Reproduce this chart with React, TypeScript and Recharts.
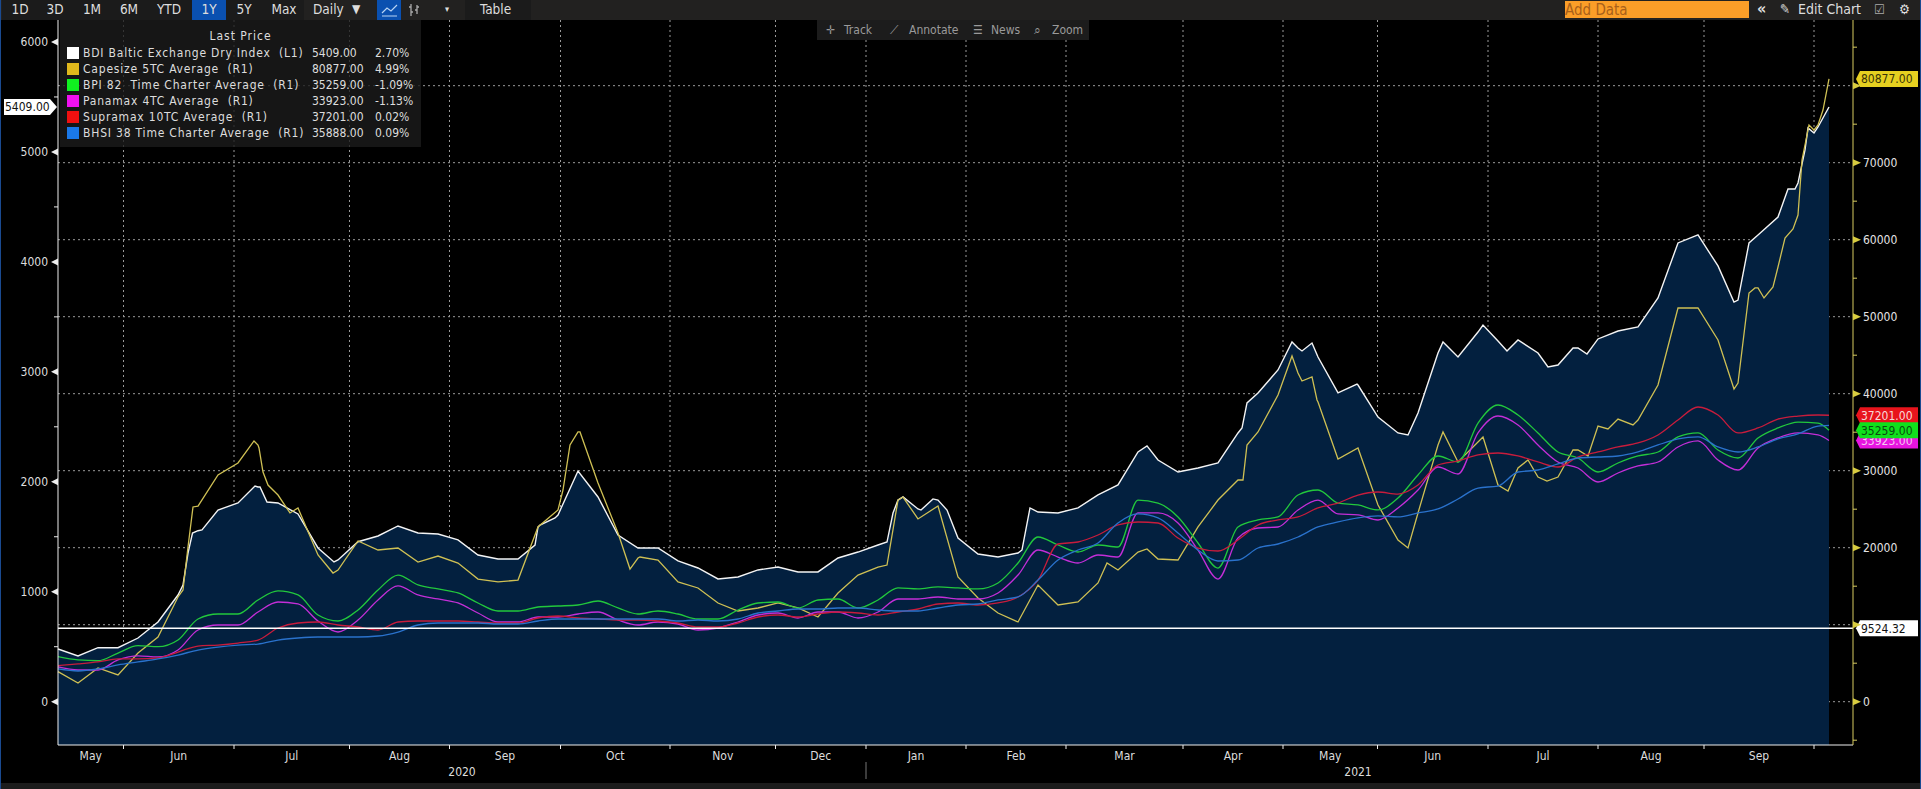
import React from 'react';
import { ComposedChart, Area, Line, XAxis, YAxis, CartesianGrid, ReferenceLine, ReferenceDot } from 'recharts';

const FONT = '"DejaVu Sans Condensed", "DejaVu Sans", sans-serif';

// one sample every 4 trading days, the last one is the final print
const bdi = [
  479, 416, 491, 491, 579, 725, 970, 1555, 1743, 1807,
  1953, 1807, 1707, 1398, 1289, 1455, 1507, 1598, 1534, 1525,
  1471, 1334, 1298, 1298, 1589, 1698, 2098, 1862, 1516, 1398,
  1398, 1280, 1216, 1116, 1134, 1198, 1225, 1180, 1180, 1307,
  1361, 1425, 1834, 1753, 1834, 1489, 1343, 1316, 1352, 1725,
  1716, 1762, 1880, 1971, 2271, 2198, 2089, 2125, 2171, 2444,
  2808, 3017, 3217, 3135, 2808, 2880, 2589, 2444, 2626, 3171,
  3135, 3362, 3281, 3290, 3171, 3062, 3217, 3299, 3371, 3408,
  3672, 4172, 4245, 3963, 3653, 4245, 4408, 4718, 5227, 5409,
];
const capesize = [
  3900, 2430, 4380, 3470, 6320, 8400, 13600, 25400, 29440, 31000,
  33340, 26840, 25160, 19050, 17100, 20870, 19700, 19960, 18140, 18920,
  18010, 15930, 15550, 15800, 22690, 24900, 35030, 28400, 21910, 18660,
  18400, 15550, 14770, 12820, 11780, 12170, 12820, 12170, 11000, 14120,
  16450, 17490, 26190, 23730, 25420, 16190, 13470, 11520, 10350, 15160,
  12560, 12950, 15420, 17100, 19440, 18530, 18400, 22690, 26190, 28790,
  35030, 39830, 42690, 38920, 31520, 32950, 25550, 21000, 24510, 33340,
  31130, 33730, 28140, 30350, 29180, 29180, 32690, 35800, 36710, 36580,
  41130, 51130, 51130, 46970, 41390, 53730, 56450, 63200, 74900, 80877,
];
const bpi82 = [
  5840, 5420, 5320, 6320, 7270, 7140, 8010, 10740, 11390, 11390,
  13210, 14380, 13860, 11260, 10480, 11910, 14510, 16450, 15160, 14640,
  14120, 12820, 11780, 11780, 12300, 12430, 12560, 13080, 12170, 11390,
  11780, 11390, 10740, 10740, 11910, 12820, 12950, 12170, 13210, 13340,
  12170, 13210, 14770, 14640, 14900, 14770, 14640, 15420, 18010, 21390,
  20350, 19440, 20350, 20090, 26190, 25800, 23990, 20610, 17360, 22690,
  23600, 23990, 26840, 27490, 25800, 25550, 24900, 26450, 29440, 31910,
  31130, 36190, 38530, 37230, 34900, 32430, 31650, 29830, 31000, 31910,
  32430, 34380, 34900, 32690, 31650, 34250, 35550, 36320, 36190, 35259,
];
const panamax = [
  4510, 4120, 4120, 5420, 5940, 5810, 6710, 9310, 9960, 9960,
  11650, 12950, 12690, 10480, 9050, 10610, 13210, 15030, 13860, 13340,
  12820, 11520, 10350, 10350, 11000, 11000, 11390, 11650, 10610, 9960,
  10350, 10090, 9310, 9570, 10350, 11260, 11520, 10870, 11650, 11650,
  10870, 11650, 13340, 13340, 13600, 13340, 13340, 14120, 16450, 19700,
  18790, 18010, 19050, 18790, 24510, 24510, 23210, 19700, 15930, 21260,
  22560, 22690, 24900, 26190, 24380, 24250, 23600, 25160, 27490, 30480,
  29570, 34900, 37100, 35940, 33340, 31130, 30350, 28530, 29700, 30610,
  31130, 33080, 33860, 31390, 30090, 32950, 34250, 34900, 34640, 33923,
];
const supramax = [
  4680, 4900, 5160, 5550, 5550, 5680, 6450, 7230, 7360, 7620,
  8010, 9570, 10220, 10350, 9960, 9700, 9310, 10350, 10480, 10480,
  10480, 10350, 10220, 10220, 10870, 11130, 10870, 10740, 10610, 10610,
  10480, 10220, 9700, 9700, 10220, 11000, 11260, 11000, 11390, 11650,
  11520, 11260, 11650, 12040, 12690, 12820, 12560, 12820, 13600, 15800,
  20480, 20740, 21650, 22950, 23340, 23210, 21260, 19960, 19570, 21000,
  22950, 23600, 23990, 25160, 25800, 26840, 27230, 26970, 28140, 30740,
  31260, 32040, 32300, 31910, 31130, 30480, 31780, 32430, 33080, 33600,
  34640, 36580, 38270, 37230, 34900, 35550, 36710, 37100, 37230, 37201,
];
const bhsi38 = [
  4250, 3990, 4250, 4770, 5160, 5550, 6060, 6710, 7100, 7360,
  7490, 8010, 8270, 8400, 8400, 8400, 8530, 9050, 9960, 10220,
  10220, 10220, 10090, 10090, 10480, 10740, 10740, 10740, 10740, 10740,
  10740, 10480, 10610, 10480, 10740, 11520, 11780, 12040, 12040, 12170,
  12170, 11910, 11780, 11780, 12170, 12560, 12690, 13210, 13600, 15800,
  18400, 19700, 20610, 23210, 24380, 23860, 21910, 19700, 18270, 18400,
  19960, 20480, 21390, 22690, 23340, 23860, 24120, 23990, 24510, 25030,
  26320, 27750, 28010, 29830, 30090, 30870, 31650, 31780, 31910, 32430,
  33340, 34120, 34380, 33080, 32430, 33080, 34120, 34770, 35800, 35888,
];

// extra readings for the two jagged series, at their turning points
const bdiExtraDays = [25, 26, 26.9, 28.8, 39.4, 40.4, 41.8, 55.2, 95.4, 96.4, 99.4, 165.8, 167, 169, 172.6, 175, 177.8, 192.8, 194.4, 217.8, 236.8, 237.8, 246.8, 248.8, 250.8, 259.8, 270, 277, 285, 289.8, 298, 303, 305.8, 335.2, 338.2, 346, 347.4, 349.4, 350, 351.2];
const bdiExtra = [1061, 1352, 1534, 1562, 1962, 1953, 1816, 1271, 1425, 1607, 1671, 1452, 1716, 1862, 1743, 1844, 1743, 1380, 1762, 2326, 2489, 2717, 3271, 3190, 3262, 2889, 2426, 3271, 3426, 3190, 3044, 3217, 3162, 3635, 4172, 4663, 4663, 5018, 5218, 5172];
const capesizeExtraDays = [25, 26, 27, 39.2, 40.2, 41, 42, 46.4, 55, 101, 102.4, 104.4, 114.4, 116.4, 165.8, 169, 209.8, 217.8, 237, 237.8, 246.8, 248.8, 250.8, 251.8, 270, 277, 285, 290, 294, 297.8, 303, 306, 310, 315, 335.2, 338.2, 339.4, 341.2, 343, 345.4, 347, 348.8, 350.2, 351.2, 353];
const capesizeExtra = [14510, 20090, 25290, 33860, 32950, 29830, 28140, 24510, 16710, 27490, 33340, 35030, 17230, 18790, 17750, 26580, 18010, 19830, 28790, 33340, 44900, 41650, 42170, 39180, 19960, 35030, 34380, 27360, 31390, 28660, 32690, 31910, 35420, 35940, 40610, 53080, 53730, 52430, 53860, 60220, 61390, 70350, 74900, 74250, 76840];

const sampleStep = 4;
const lastDay = 354.2;
const rows: any[] = [
  ...bdi.map((v, i) => ({
    day: i === bdi.length - 1 ? lastDay : i * sampleStep,
    bdi: v,
    capesize: capesize[i],
    bpi82: bpi82[i],
    panamax: panamax[i],
    supramax: supramax[i],
    bhsi38: bhsi38[i],
  })),
  ...bdiExtraDays.map((day, i) => ({ day, bdi: bdiExtra[i] })),
  ...capesizeExtraDays.map((day, i) => ({ day, capesize: capesizeExtra[i] })),
].sort((a, b) => a.day - b.day);

// trading day of each month boundary
const monthEnds = [13.1, 35.2, 58.3, 78.3, 100.5, 122.4, 143.5, 161.6, 181.6, 201.6, 225, 245, 263.9, 286, 308, 329.2, 351.2];
const monthNames = ['May', 'Jun', 'Jul', 'Aug', 'Sep', 'Oct', 'Nov', 'Dec', 'Jan', 'Feb', 'Mar', 'Apr', 'May', 'Jun', 'Jul', 'Aug', 'Sep'];
const monthMids = monthEnds.map((end, i) => ((i === 0 ? 0 : monthEnds[i - 1]) + end) / 2);
const yearDivider = 161.6;
const years = [{ day: 80.8, label: '2020' }, { day: 260, label: '2021' }];

const xDomain = [0, 359];
const leftDomain = [-394, 6200];
const rightDomain = [-5623, 88530];
const leftTicks = [0, 500, 1000, 1500, 2000, 2500, 3000, 3500, 4000, 4500, 5000, 5500, 6000];
const rightTicks = [-5000, 0, 5000, 10000, 15000, 20000, 25000, 30000, 35000, 40000, 45000, 50000, 55000, 60000, 65000, 70000, 75000, 80000, 85000];
const coveredRightLabels = [10000, 80000]; // sit behind the price tags in the original
const gridValues = [0, 10000, 20000, 30000, 40000, 50000, 60000, 70000, 80000];
const refLevel = 9524.32;

const legendItems = [
  { name: 'BDI Baltic Exchange Dry Index  (L1)', price: '5409.00', pct: '2.70%', color: '#ffffff' },
  { name: 'Capesize 5TC Average  (R1)', price: '80877.00', pct: '4.99%', color: '#e0b81c' },
  { name: 'BPI 82  Time Charter Average  (R1)', price: '35259.00', pct: '-1.09%', color: '#10f020' },
  { name: 'Panamax 4TC Average  (R1)', price: '33923.00', pct: '-1.13%', color: '#f010f0' },
  { name: 'Supramax 10TC Average  (R1)', price: '37201.00', pct: '0.02%', color: '#f01010' },
  { name: 'BHSI 38 Time Charter Average  (R1)', price: '35888.00', pct: '0.09%', color: '#1a78e8' },
];

const rangeButtons = [
  { label: '1D', x: 20 }, { label: '3D', x: 55 }, { label: '1M', x: 92 }, { label: '6M', x: 129 },
  { label: 'YTD', x: 169 }, { label: '1Y', x: 209 }, { label: '5Y', x: 244 }, { label: 'Max', x: 284 },
];
const overlayTools = [
  { icon: '✛', label: 'Track', x: 844, iconX: 826 },
  { icon: '⟋', label: 'Annotate', x: 909, iconX: 890 },
  { icon: '☰', label: 'News', x: 991, iconX: 973 },
  { icon: '⌕', label: 'Zoom', x: 1052, iconX: 1034 },
];

const LeftTick = ({ x, y, payload }: any) => {
  if (payload.value % 1000 !== 0) {
    return <line x1={x - 4} x2={x} y1={y} y2={y} stroke="#eee" />;
  }
  return (
    <g>
      <polygon points={`${x},${y - 3.5} ${x},${y + 3.5} ${x - 7},${y}`} fill="#eee" />
      <text x={x - 10} y={y + 4.5} textAnchor="end" fill="#ddd" fontSize={12} fontFamily={FONT}>{payload.value}</text>
    </g>
  );
};

const RightTick = ({ x, y, payload }: any) => {
  if (payload.value % 10000 !== 0) {
    return <line x1={x} x2={x + 4} y1={y} y2={y} stroke="#d8cc60" />;
  }
  return (
    <g>
      <polygon points={`${x},${y - 3.5} ${x},${y + 3.5} ${x + 8},${y}`} fill="#d8cc40" />
      {!coveredRightLabels.includes(payload.value) && (
        <text x={x + 10} y={y + 4.5} fill="#e4e4e4" fontSize={12} fontFamily={FONT}>{payload.value}</text>
      )}
    </g>
  );
};

const BottomTick = ({ x, y, payload }: any) => {
  const v = payload.value;
  const monthIdx = monthMids.indexOf(v);
  if (monthIdx >= 0) {
    return <text x={x} y={y + 15} textAnchor="middle" fill="#ddd" fontSize={12} fontFamily={FONT}>{monthNames[monthIdx]}</text>;
  }
  const year = years.find((d) => d.day === v);
  if (year) {
    return <text x={x} y={y + 31} textAnchor="middle" fill="#ddd" fontSize={12} fontFamily={FONT}>{year.label}</text>;
  }
  return (
    <g>
      <line x1={x} x2={x} y1={y} y2={y + 4} stroke="#eee" />
      {v === yearDivider && <line x1={x} x2={x} y1={y + 17} y2={y + 34} stroke="#777" />}
    </g>
  );
};

// price tag hanging off an axis
const rightTag = (label: string, bg: string, fg: string) => ({ cx, cy }: any) => {
  const x0 = cx + 7;
  return (
    <g>
      <polygon points={`${cx + 3},${cy} ${x0},${cy - 8} ${x0 + 58},${cy - 8} ${x0 + 58},${cy + 8} ${x0},${cy + 8}`} fill={bg} />
      <text x={x0 + 1} y={cy + 4.5} fill={fg} fontSize={12} fontFamily={FONT}>{label}</text>
    </g>
  );
};

const leftTag = (label: string) => ({ cx, cy }: any) => (
  <g>
    <polygon points={`${cx - 54},${cy - 8} ${cx - 8},${cy - 8} ${cx - 1},${cy} ${cx - 8},${cy + 8} ${cx - 54},${cy + 8}`} fill="#fff" />
    <text x={cx - 53} y={cy + 4.5} fill="#111" fontSize={12} fontFamily={FONT}>{label}</text>
  </g>
);

const Toolbar = () => (
  <div style={{ position: 'absolute', left: 0, top: 0, width: 1921, height: 20, background: '#222120', color: '#ddd', fontSize: 13.5, lineHeight: '19px' }}>
    <div style={{ position: 'absolute', left: 2, top: 0, width: 302, height: 20, background: '#1b1b1b' }} />
    <div style={{ position: 'absolute', left: 192, top: 0, width: 34, height: 20, background: '#0a50b0' }} />
    {rangeButtons.map((b) => (
      <span key={b.label} style={{ position: 'absolute', left: b.x - 20, width: 40, textAlign: 'center' }}>{b.label}</span>
    ))}
    <span style={{ position: 'absolute', left: 313 }}>Daily</span>
    <span style={{ position: 'absolute', left: 352, fontSize: 12 }}>▼</span>
    <div style={{ position: 'absolute', left: 377, top: 0, width: 24, height: 20, background: '#0a50b0' }} />
    <svg style={{ position: 'absolute', left: 381, top: 3 }} width={17} height={14}>
      <polyline points="1,10 6,5 10,8 16,2" fill="none" stroke="#b8d4f4" strokeWidth={1.2} />
      <line x1={1} x2={16} y1={13} y2={13} stroke="#b8d4f4" />
    </svg>
    <svg style={{ position: 'absolute', left: 408, top: 3 }} width={12} height={14}>
      <path d="M3 1V13M1 4H3M3 9H5M9 2V11M7 7H9M9 4H11" fill="none" stroke="#aaa" strokeWidth={1.3} />
    </svg>
    <span style={{ position: 'absolute', left: 445, fontSize: 9 }}>▾</span>
    <div style={{ position: 'absolute', left: 465, top: 0, width: 66, height: 20, background: '#1b1b1b' }} />
    <span style={{ position: 'absolute', left: 480 }}>Table</span>
    <div style={{ position: 'absolute', left: 1565, top: 1, width: 184, height: 17, background: '#fb9e28', color: '#a8601a', fontSize: 15, lineHeight: '18px', whiteSpace: 'nowrap' }}>Add Data</div>
    <span style={{ position: 'absolute', left: 1757, fontSize: 16, fontWeight: 700, lineHeight: '18px' }}>«</span>
    <span style={{ position: 'absolute', left: 1780 }}>✎</span>
    <span style={{ position: 'absolute', left: 1798, fontSize: 14, whiteSpace: 'nowrap' }}>Edit Chart</span>
    <span style={{ position: 'absolute', left: 1874, color: '#aaa' }}>☑</span>
    <span style={{ position: 'absolute', left: 1899 }}>⚙</span>
  </div>
);

const ChartLegend = () => (
  <div style={{ position: 'absolute', left: 60, top: 20, width: 361, height: 127, background: 'rgba(28,28,28,0.8)', color: '#ddd', fontSize: 12 }}>
    <div style={{ position: 'absolute', left: 0, top: 9, width: 361, textAlign: 'center', lineHeight: '15px', letterSpacing: 1 }}>Last Price</div>
    {legendItems.map((item, i) => (
      <div key={item.name} style={{ position: 'absolute', left: 0, top: 25 + i * 16, height: 16, width: 361, lineHeight: '16px', whiteSpace: 'pre' }}>
        <div style={{ position: 'absolute', left: 7, top: 2, width: 12, height: 12, background: item.color }} />
        <span style={{ position: 'absolute', left: 23, letterSpacing: 0.8 }}>{item.name}</span>
        <span style={{ position: 'absolute', left: 252 }}>{item.price}</span>
        <span style={{ position: 'absolute', left: 315 }}>{item.pct}</span>
      </div>
    ))}
  </div>
);

const ToolOverlay = () => (
  <div style={{ position: 'absolute', left: 817, top: 20, width: 272, height: 20, background: '#1c1c1c', color: '#9a9a9a', fontSize: 12, lineHeight: '20px' }}>
    {overlayTools.map((t) => (
      <React.Fragment key={t.label}>
        <span style={{ position: 'absolute', left: t.iconX - 817 }}>{t.icon}</span>
        <span style={{ position: 'absolute', left: t.x - 817 }}>{t.label}</span>
      </React.Fragment>
    ))}
  </div>
);

export default function App() {
  const xTicks = [...monthEnds, ...monthMids, ...years.map((d) => d.day)].sort((a, b) => a - b);
  return (
    <div style={{ position: 'absolute', left: 0, top: 0, width: 1921, height: 789, background: '#000', overflow: 'hidden', fontFamily: FONT }}>
      <ComposedChart width={1921} height={789} data={rows} margin={{ top: 20, right: 0, bottom: 0, left: 0 }}>
        <XAxis
          dataKey="day"
          type="number"
          domain={xDomain}
          ticks={xTicks}
          interval={0}
          height={44}
          tickSize={0}
          tickMargin={0}
          tickLine={false}
          axisLine={{ stroke: '#eee' }}
          tick={<BottomTick />}
        />
        <YAxis
          yAxisId="left"
          width={58}
          domain={leftDomain}
          ticks={leftTicks}
          interval={0}
          allowDataOverflow
          tickSize={0}
          tickMargin={0}
          tickLine={false}
          axisLine={{ stroke: '#eee' }}
          tick={<LeftTick />}
        />
        <YAxis
          yAxisId="right"
          orientation="right"
          width={68}
          domain={rightDomain}
          ticks={rightTicks}
          interval={0}
          allowDataOverflow
          tickSize={0}
          tickMargin={0}
          tickLine={false}
          axisLine={{ stroke: '#d8cc60' }}
          tick={<RightTick />}
        />
        <Area yAxisId="left" type="linear" dataKey="bdi" baseValue={leftDomain[0]} connectNulls stroke="none" fill="#03203f" fillOpacity={1} isAnimationActive={false} />
        <CartesianGrid
          yAxisId="right"
          stroke="#9a9a9a"
          strokeDasharray="2 3"
          horizontalValues={gridValues}
          verticalValues={monthEnds}
        />
        <Line yAxisId="left" type="linear" dataKey="bdi" connectNulls stroke="#f4f4f4" strokeWidth={1.4} dot={false} isAnimationActive={false} />
        <Line yAxisId="right" type="linear" dataKey="capesize" connectNulls stroke="#cfc054" strokeWidth={1.3} dot={false} isAnimationActive={false} />
        <Line yAxisId="right" type="monotone" dataKey="bpi82" connectNulls stroke="#22c83c" strokeWidth={1.3} dot={false} isAnimationActive={false} />
        <Line yAxisId="right" type="monotone" dataKey="panamax" connectNulls stroke="#c42ed8" strokeWidth={1.3} dot={false} isAnimationActive={false} />
        <Line yAxisId="right" type="monotone" dataKey="supramax" connectNulls stroke="#c81c3c" strokeWidth={1.3} dot={false} isAnimationActive={false} />
        <Line yAxisId="right" type="monotone" dataKey="bhsi38" connectNulls stroke="#2a72cc" strokeWidth={1.3} dot={false} isAnimationActive={false} />
        <ReferenceLine yAxisId="right" y={refLevel} stroke="#fff" strokeWidth={1.5} />
        <ReferenceDot yAxisId="left" x={xDomain[0]} y={bdi[bdi.length - 1]} ifOverflow="visible" shape={leftTag('5409.00')} />
        <ReferenceDot yAxisId="right" x={xDomain[1]} y={refLevel} ifOverflow="visible" shape={rightTag('9524.32', '#fff', '#111')} />
        <ReferenceDot yAxisId="right" x={xDomain[1]} y={panamax[panamax.length - 1]} ifOverflow="visible" shape={rightTag('33923.00', '#e814e0', '#f4c8f0')} />
        <ReferenceDot yAxisId="right" x={xDomain[1]} y={supramax[supramax.length - 1]} ifOverflow="visible" shape={rightTag('37201.00', '#e8141c', '#f8d8d8')} />
        <ReferenceDot yAxisId="right" x={xDomain[1]} y={bpi82[bpi82.length - 1]} ifOverflow="visible" shape={rightTag('35259.00', '#10e01c', '#0a4a10')} />
        <ReferenceDot yAxisId="right" x={xDomain[1]} y={capesize[capesize.length - 1]} ifOverflow="visible" shape={rightTag('80877.00', '#e6d020', '#3a3408')} />
      </ComposedChart>
      <Toolbar />
      <ChartLegend />
      <ToolOverlay />
      <div style={{ position: 'absolute', left: 0, top: 783, width: 1921, height: 6, background: '#1c1c1c' }} />
      <div style={{ position: 'absolute', left: 0, top: 0, width: 1, height: 789, background: '#1a4a90' }} />
      <div style={{ position: 'absolute', left: 1920, top: 0, width: 1, height: 789, background: '#1a4a90' }} />
    </div>
  );
}
